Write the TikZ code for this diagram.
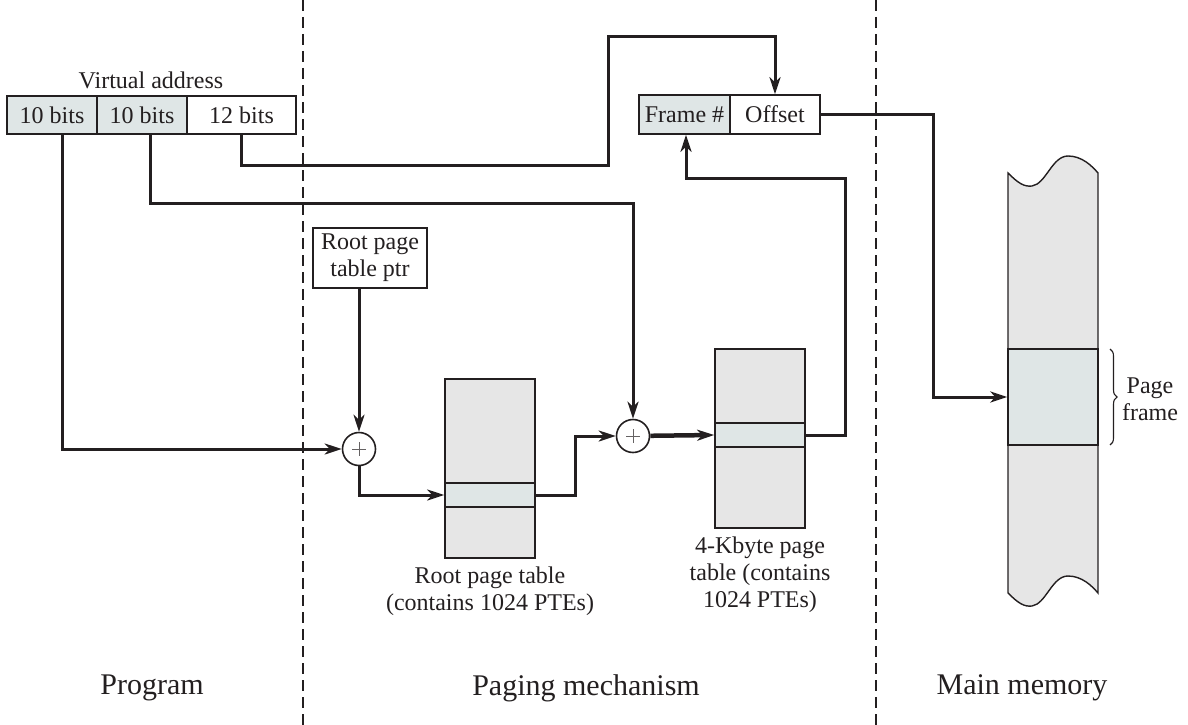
\documentclass[tikz,border=0pt]{standalone}
\usepackage{fontspec}
\setmainfont{Liberation Serif}
\usetikzlibrary{arrows.meta,decorations.pathreplacing,calc}
\definecolor{ink}{HTML}{231F20}
\definecolor{tablegray}{HTML}{E6E6E6}
\definecolor{bandgray}{HTML}{DFE6E6}
\tikzset{
  txt/.style={font=\fontsize{24}{27}\selectfont, text=ink, align=center},
  big/.style={font=\fontsize{30}{34}\selectfont, text=ink},
  fld/.style={txt, draw=ink, line width=1.6pt, minimum height=38pt, inner sep=0pt},
  conn/.style={draw=ink, line width=3pt},
  tip/.style={-{Stealth[length=17pt,width=11pt,inset=5pt]}},
  adder/.style={circle, draw=ink, line width=1.6pt, fill=white, minimum size=33pt, inner sep=0pt},
  sep/.style={draw=ink, line width=2.7pt, dash pattern=on 11pt off 6pt},
  tbl/.style={draw=ink, line width=1.6pt, fill=tablegray},
  band/.style={draw=ink, line width=1.6pt, fill=bandgray, minimum width=90pt, minimum height=24pt, inner sep=0pt}
}
\begin{document}
\begin{tikzpicture}[x=1pt,y=-1pt]
\useasboundingbox (0,0) rectangle (1188,725);
% separators
\draw[sep] (303,0) -- (303,725);
\draw[sep] (876,0) -- (876,725);
% virtual address
\node[txt] (va) at (151,80) {Virtual address};
\node[fld, fill=bandgray, minimum width=90pt] (b1) at (52,115) {10 bits};
\node[fld, fill=bandgray, minimum width=90pt] (b2) at (142,115) {10 bits};
\node[fld, fill=white, minimum width=109pt] (b3) at (241.5,115) {12 bits};
% frame / offset
\node[fld, fill=bandgray, minimum width=91pt, minimum height=39pt] (fr) at (684.5,114.5) {Frame \#};
\node[fld, fill=white, minimum width=90pt, minimum height=39pt] (off) at (775,114.5) {Offset};
% root page table ptr
\node[fld, fill=white, minimum width=114pt, minimum height=60pt] (ptr) at (370,258) {Root page\\table ptr};
% adders
\node[adder] (a1) at (359,449) {};
\node[adder] (a2) at (633,436) {};
\foreach \a in {a1,a2}{
  \draw[ink!70, line width=0.9pt] ($(\a)+(-7,0)$) -- ($(\a)+(7,0)$) ($(\a)+(0,-7)$) -- ($(\a)+(0,7)$);
}
% root page table
\draw[tbl] (445,379) rectangle (535,558);
\node[band] (rb) at (490,495) {};
\node[txt] (rl) at (490,591) {Root page table\\(contains 1024 PTEs)};
% 4K page table
\draw[tbl] (715,349) rectangle (805,528);
\node[band] (kb) at (760,435) {};
\node[txt] (kl) at (760,575) {4-Kbyte page\\table (contains\\1024 PTEs)};
% main memory
\draw[tbl, line width=1.4pt] (1008,173) .. controls (1018,183) and (1024,187) .. (1032,186)
  .. controls (1046,184) and (1052,156) .. (1068,156)
  .. controls (1082,156) and (1092,166) .. (1098,173)
  -- (1098,593)
  .. controls (1092,586) and (1082,576) .. (1068,576)
  .. controls (1052,576) and (1046,604) .. (1032,606)
  .. controls (1024,607) and (1018,603) .. (1008,593) -- cycle;
\node[band, minimum height=96pt, line width=1.4pt] (mb) at (1053,397) {};
\draw[ink, line width=1.1pt, decorate, decoration={brace, amplitude=7pt}] (1110,349) -- (1110,445);
\node[txt] (pf) at (1150,399) {Page\\frame};
% coordinates
\coordinate (c2) at (633,203);
\coordinate (k1) at (608,165);
\coordinate (k2) at (608,37);
\coordinate (k4) at (575,436);
\coordinate (k5) at (845,178);
\coordinate (k6) at (933,397);
% connectors
\draw[conn,tip] ([xshift=10pt]b1.south) |- (a1);
\draw[conn,tip] ([xshift=8pt]b2.south) |- (c2) -- (a2);
\draw[conn,tip] (b3.south) |- (k1) -- (k2) -| (off.north);
\draw[conn,tip] (a1 |- ptr.south) -- (a1);
\draw[conn,tip] (a1) |- (rb.west);
\draw[conn,tip] (rb.east) -| (k4) -- (a2);
\draw[conn,tip, line width=4.5pt] (a2) -- (kb.west);
\draw[conn,tip] (kb.east) -| (k5) -| ([xshift=1.5pt]fr.south);
\draw[conn,tip] (off.east) -| (k6) -- (mb.west);
% bottom labels
\node[big] (lp) at (152,688) {Program};
\node[big] (lm) at (586,688) {Paging mechanism};
\node[big] (lmm) at (1022,688) {Main memory};
\end{tikzpicture}
\end{document}
